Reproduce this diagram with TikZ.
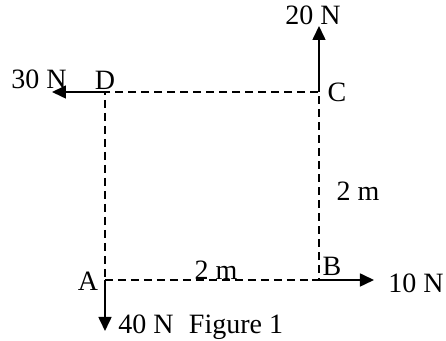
\documentclass[tikz,border=0pt]{standalone}
\usepackage{fontspec}
\setmainfont{Liberation Serif}
\usetikzlibrary{arrows.meta}
\begin{document}
\begin{tikzpicture}[x=0.5pt,y=-0.5pt,
  dashline/.style={draw,line width=0.65pt,dash pattern=on 4pt off 2.5pt},
  force/.style={draw,line width=0.8pt,-{Triangle[length=7pt,width=6.5pt]}},
  lbl/.style={font=\fontsize{14}{16}\selectfont,inner sep=0pt}]
\useasboundingbox (0,0) rectangle (446,341);
\coordinate (A) at (105,280);
\coordinate (B) at (319,280);
\coordinate (C) at (319,92);
\coordinate (D) at (105,92);
\coordinate (Bs) at (312,280);
\coordinate (Ft) at (52,92);
\coordinate (Ct) at (319,26);
\coordinate (Bt) at (374,280);
\coordinate (At) at (105,331);
\path[dashline] (A) -- (B) -- (C) -- (D) -- cycle;
\path[force] (D) -- (Ft);
\path[force] (C) -- (Ct);
\path[force] (Bs) -- (Bt);
\path[force] (A) -- (At);
\node[lbl] (l30) at (39,79) {30 N};
\node[lbl] (lD) at (105,80) {D};
\node[lbl] (l20) at (313,15) {20 N};
\node[lbl] (lC) at (337,92) {C};
\node[lbl] (lm2) at (358,191) {2 m};
\node[lbl] (lB) at (332,266) {B};
\node[lbl,anchor=east] (l10) at (444,283) {10 N};
\node[lbl] (lA) at (88,281) {A};
\node[lbl] (lm1) at (216,270) {2 m};
\node[lbl] (l40) at (146,324) {40 N};
\node[lbl] (fig) at (236,327) {Figure 1};
\end{tikzpicture}
\end{document}
